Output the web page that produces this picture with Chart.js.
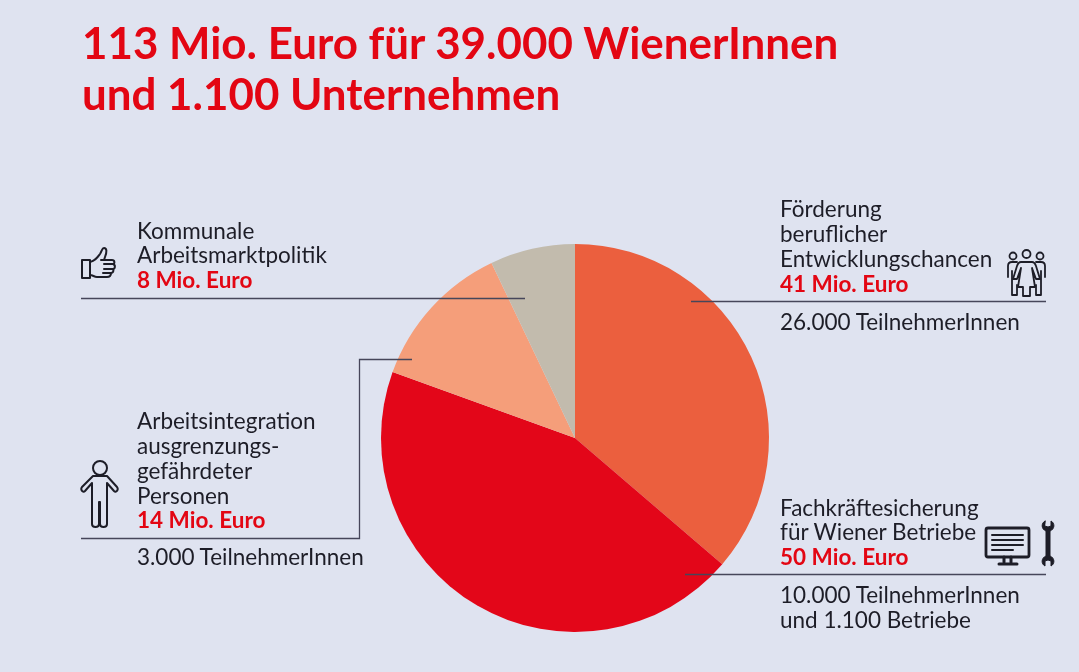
<!DOCTYPE html>
<html lang="de">
<head>
<meta charset="utf-8">
<title>113 Mio. Euro</title>
<script src="https://cdn.jsdelivr.net/npm/chart.js@4"></script>
<style>
  html, body { margin: 0; padding: 0; background: #dfe3f0; }
  #wrap { position: relative; width: 1079px; height: 672px; overflow: hidden; background: #dfe3f0; font-family: Lato, sans-serif; }
  #pie { position: absolute; left: 0; top: 0; }
  .title { position: absolute; left: 82px; color: #e30613; font-size: 43.900px; font-weight: 700; line-height: 54px; white-space: nowrap; }
  .line { position: absolute; font-size: 22.500px; line-height: 24px; color: #1d1d27; white-space: nowrap; }
  .line.red { color: #e30613; font-weight: 700; }
  svg.icon { position: absolute; fill: none; stroke: #1d1d27; stroke-width: 2; stroke-linejoin: round; stroke-linecap: round; }
</style>
</head>
<body>
<div id="wrap">
  <canvas id="pie" width="1079" height="672"></canvas>
  <div id="labels"></div>

  <!-- thumb -->
  <svg class="icon" style="left:80px;top:246px" width="38" height="36" viewBox="0 0 38 36">
    <path d="M2 14h8v18H2zM10 16c5-1 7-4 10-8 2-3 2-6 4-6 3 0 3 4 1 9l-1 3h8c3 0 3 4 1 4 3 1 2 5 0 5 1 2 0 4-2 4 0 3-2 4-4 4H17c-3 0-4-2-7-2"/>
    <path d="M24 14h-3M33 18h-9M33 23h-9M31 27h-8"/>
  </svg>
  <!-- person -->
  <svg class="icon" style="left:80px;top:460px" width="40" height="68" viewBox="0 0 40 68">
    <circle cx="20" cy="8" r="7"/>
    <path d="M13 16h14l10 11c2 3-1 6-3 4l-7-8v41c0 4-7 4-7 0V42h-1v22c0 4-7 4-7 0V23l-7 8c-2 2-5-1-3-4z"/>
  </svg>
  <!-- group -->
  <svg class="icon" style="left:1006px;top:249px;stroke-width:1.800" width="42" height="49" viewBox="0 0 42 49">
    <circle cx="7" cy="7" r="3.500"/><circle cx="20.500" cy="5" r="4"/><circle cx="34" cy="7" r="3.500"/>
    <path d="M2 28V17c0-3 2-4 4-4h5M39 28V17c0-3-2-4-4-4h-5M6 22v24h5V36M35 22v24h-5V36"/>
    <path d="M15 13h11c2 0 3 1 4 4l4 13h-4l-4-11 3 19h-5v9h-7v-9h-5l3-19-4 11h-4l4-13c1-3 2-4 4-4z"/>
  </svg>
  <!-- monitor -->
  <svg class="icon" style="left:984px;top:526px;stroke-width:2.800" width="48" height="42" viewBox="0 0 48 42">
    <rect x="2" y="2" width="43" height="29" rx="2"/>
    <path d="M8 9h31M8 14h31M8 19h31M8 24h21" stroke-width="2"/>
    <path d="M20 31v5M27 31v5M15 38h18" stroke-width="3"/>
  </svg>
  <!-- wrench -->
  <svg class="icon" style="left:1040px;top:519px;stroke-width:1" width="16" height="49" viewBox="0 0 16 49">
    <path d="M5 2C1 4 1 10 6 12v25c-5 2-5 8-1 10v-5l3-1 3 1v5c4-2 4-8-1-10V12c5-2 5-8 1-10v5L8 8 5 7z" fill="#1d1d27"/>
  </svg>
</div>

<script>
const categories = [
  'Förderung beruflicher Entwicklungschancen',
  'Fachkräftesicherung für Wiener Betriebe',
  'Arbeitsintegration ausgrenzungsgefährdeter Personen',
  'Kommunale Arbeitsmarktpolitik'
];
const values = [41, 50, 14, 8];
const colors = ['#eb5f3e', '#e30619', '#f59e7a', '#c2bbad'];

const titleLines = ['113 Mio. Euro für 39.000 WienerInnen', 'und 1.100 Unternehmen'];

// text, x, vertical centre, red?
const textLines = [
  ['Kommunale', 137, 231, false],
  ['Arbeitsmarktpolitik', 137, 255, false],
  ['8 Mio. Euro', 137, 280, true],
  ['Arbeitsintegration', 137, 421, false],
  ['ausgrenzungs-', 137, 446, false],
  ['gefährdeter', 137, 471, false],
  ['Personen', 137, 496, false],
  ['14 Mio. Euro', 137, 520, true],
  ['3.000 TeilnehmerInnen', 137, 557, false],
  ['Förderung', 780, 209, false],
  ['beruflicher', 780, 234, false],
  ['Entwicklungschancen', 780, 259, false],
  ['41 Mio. Euro', 780, 284, true],
  ['26.000 TeilnehmerInnen', 780, 322, false],
  ['Fachkräftesicherung', 780, 508, false],
  ['für Wiener Betriebe', 780, 532, false],
  ['50 Mio. Euro', 780, 557, true],
  ['10.000 TeilnehmerInnen', 780, 595, false],
  ['und 1.100 Betriebe', 780, 620, false]
];

const leaders = [
  [[81, 298.500], [525, 298.500]],
  [[691, 301.500], [1046, 301.500]],
  [[685, 574.500], [1046, 574.500]],
  [[81, 538.500], [359.500, 538.500], [359.500, 359.500], [412, 359.500]]
];

const labels = document.getElementById('labels');
titleLines.forEach((t, i) => {
  const el = document.createElement('div');
  el.className = 'title';
  el.style.top = (15 + i * 51) + 'px';
  el.textContent = t;
  labels.appendChild(el);
});
textLines.forEach(([t, x, y, red]) => {
  const el = document.createElement('div');
  el.className = red ? 'line red' : 'line';
  el.style.left = x + 'px';
  el.style.top = (y - 12) + 'px';
  el.textContent = t;
  labels.appendChild(el);
});

const leaderPlugin = {
  id: 'leaders',
  afterDraw(chart) {
    const c = chart.ctx;
    c.save();
    c.strokeStyle = '#46465a';
    c.lineWidth = 1.300;
    leaders.forEach(pts => {
      c.beginPath();
      pts.forEach(([x, y], i) => i ? c.lineTo(x, y) : c.moveTo(x, y));
      c.stroke();
    });
    c.restore();
  }
};

new Chart(document.getElementById('pie'), {
  type: 'pie',
  data: {
    labels: categories,
    datasets: [{ data: values, backgroundColor: colors, borderWidth: 0 }]
  },
  options: {
    responsive: false,
    animation: false,
    layout: { padding: { left: 381, right: 310, top: 244, bottom: 40 } },
    plugins: { legend: { display: false }, tooltip: { enabled: false } }
  },
  plugins: [leaderPlugin]
});
</script>
</body>
</html>
